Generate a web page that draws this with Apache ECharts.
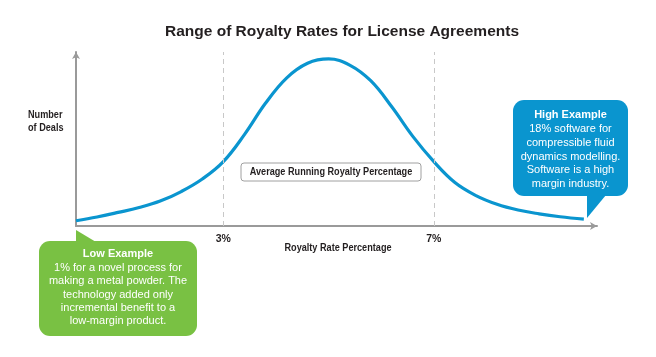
<!DOCTYPE html>
<html><head><meta charset="utf-8">
<script src="https://cdn.jsdelivr.net/npm/echarts@6/dist/echarts.min.js"></script>
<style>html,body{margin:0;padding:0;background:#fff}#c{width:656px;height:357px}</style>
</head><body><div id="c"></div>
<script>
// Data (x = royalty rate %, y = relative number of deals)
const rateValues = [0.2, 0.6, 1.0, 1.4, 1.8, 2.2, 2.6, 3.0, 3.4, 3.8, 4.2, 4.6, 5.0, 5.4, 5.8, 6.2, 6.6, 7.0, 7.4, 7.8, 8.2, 8.6, 9.0, 9.4, 9.85];
const dealValues = [3.0, 5.2, 7.8, 10.6, 14.3, 19.8, 27.0, 37.0, 52.5, 70.5, 85.0, 93.5, 96.0, 92.5, 83.5, 68.5, 51.5, 37.0, 25.0, 17.5, 12.5, 9.2, 7.0, 5.3, 3.9];
const tickValues = [3, 7];
const titleText = 'Range of Royalty Rates for License Agreements';
const xName = 'Royalty Rate Percentage';
const yName = 'Number\nof Deals';
const avgLabel = 'Average Running Royalty Percentage';
const lowTitle = 'Low Example';
const lowText = '1% for a novel process for\nmaking a metal powder. The\ntechnology added only\nincremental benefit to a\nlow-margin product.';
const highTitle = 'High Example';
const highText = '18% software for\ncompressible fluid\ndynamics modelling.\nSoftware is a high\nmargin industry.';

const REG = "'Liberation Sans',Arial,Helvetica,sans-serif";
const BLUE = '#0a95cf';
const GREEN = '#79c143';
const DARK = '#231f20';
const NARROW = 0.83;

const chart = echarts.init(document.getElementById('c'));
chart.setOption({
  animation: false,
  title: {
    text: titleText, left: 337, textAlign: 'center', top: 19,
    textStyle: {fontFamily: REG, fontWeight: 'bold', fontSize: 15.5, color: DARK}
  },
  grid: {left: 76, right: 59, top: 52, bottom: 131},
  xAxis: {
    type: 'value', min: 0.2, max: 10.1,
    axisLine: {lineStyle: {color: '#9a9a9a', width: 2}, symbol: ['none', 'arrow'], symbolSize: [6, 7]},
    axisTick: {show: false},
    splitLine: {show: false},
    axisLabel: {customValues: tickValues, formatter: '{value}%', margin: 8,
      fontFamily: REG, fontWeight: 'bold', fontSize: 10.5, color: DARK}
  },
  yAxis: {
    type: 'value', min: 0, max: 100,
    axisLine: {show: true, lineStyle: {color: '#9a9a9a', width: 2}, symbol: ['none', 'arrow'], symbolSize: [6, 7]},
    axisTick: {show: false}, axisLabel: {show: false}, splitLine: {show: false}
  },
  series: [{
    type: 'line', smooth: 0.4, symbol: 'none',
    data: rateValues.map((x, i) => [x, dealValues[i]]),
    lineStyle: {color: BLUE, width: 3.2},
    markLine: {
      silent: true, symbol: 'none', label: {show: false},
      lineStyle: {color: '#c8c8c8', type: [5, 4], width: 1},
      data: tickValues.map(v => ({xAxis: v}))
    }
  }],
  graphic: [
    {type: 'text', x: 28, y: 108, scaleX: NARROW, style: {text: yName, fontFamily: REG, fontWeight: 'bold', fontSize: 11, lineHeight: 13.5, fill: DARK}},
    {type: 'text', x: 338, y: 248, scaleX: NARROW, style: {text: xName, align: 'center', verticalAlign: 'middle', fontFamily: REG, fontWeight: 'bold', fontSize: 11, fill: DARK}},
    {type: 'rect', shape: {x: 241, y: 163, width: 180, height: 18, r: 3}, style: {fill: '#fff', stroke: '#a0a0a0', lineWidth: 1}},
    {type: 'text', x: 331, y: 172, scaleX: NARROW, style: {text: avgLabel, align: 'center', verticalAlign: 'middle', fontFamily: REG, fontWeight: 'bold', fontSize: 11, fill: DARK}},
    // Low example callout
    {type: 'polygon', shape: {points: [[76, 230], [76, 242], [96, 242]]}, style: {fill: GREEN}},
    {type: 'rect', shape: {x: 39, y: 241, width: 158, height: 95, r: 11}, style: {fill: GREEN}},
    {type: 'text', x: 118, y: 254, style: {text: lowTitle, align: 'center', verticalAlign: 'middle', fontFamily: REG, fontWeight: 'bold', fontSize: 11, fill: '#fff'}},
    {type: 'text', x: 118, y: 261, style: {text: lowText, align: 'center', verticalAlign: 'top', fontFamily: REG, fontSize: 11, lineHeight: 13.4, fill: '#fff'}},
    // High example callout
    {type: 'rect', shape: {x: 513, y: 100, width: 115, height: 96, r: 11}, style: {fill: BLUE}},
    {type: 'polygon', shape: {points: [[587, 195], [606, 195], [587, 218]]}, style: {fill: BLUE}},
    {type: 'text', x: 570.5, y: 115, style: {text: highTitle, align: 'center', verticalAlign: 'middle', fontFamily: REG, fontWeight: 'bold', fontSize: 11, fill: '#fff'}},
    {type: 'text', x: 570.5, y: 122.5, style: {text: highText, align: 'center', verticalAlign: 'top', fontFamily: REG, fontSize: 11, lineHeight: 13.6, fill: '#fff'}}
  ]
});
</script></body></html>
